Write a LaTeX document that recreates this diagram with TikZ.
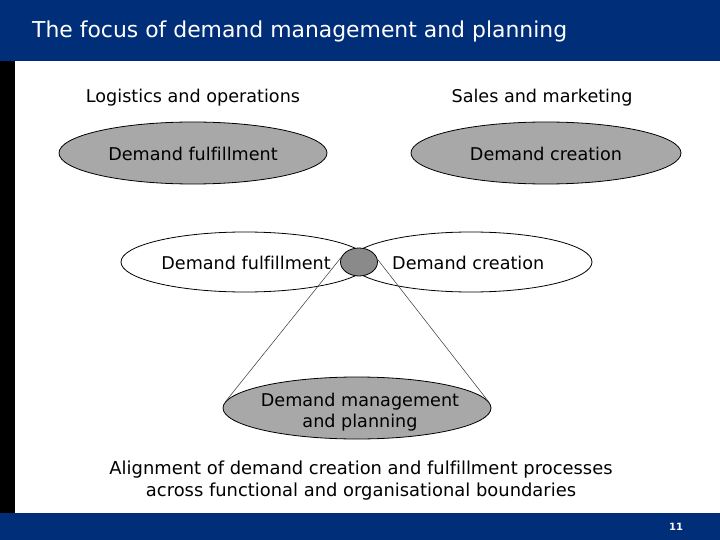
\documentclass[tikz,border=0pt]{standalone}
\usepackage{fontspec}
\setmainfont{DejaVu Sans}[Ligatures={NoCommon}]
\usepackage{xcolor}
\usetikzlibrary{positioning, shapes.geometric, calc}

\definecolor{navy}{RGB}{0,46,120}
\definecolor{lightgrey}{RGB}{168,168,168}
\definecolor{darkgrey}{RGB}{138,138,138}

\tikzset{
  oval/.style={ellipse, draw=black, line width=0.8pt, inner sep=0pt},
  ovalgrey/.style={oval, fill=lightgrey},
  label/.style={font=\fontsize{17.6}{21}\selectfont, align=center, inner sep=0pt},
  cone/.style={draw=black!80, line width=0.5pt}
}

\begin{document}
\begin{tikzpicture}[x=1pt, y=-1pt]
\useasboundingbox (0,0) rectangle (720,540);

% frame
\fill[navy] (0,0) rectangle (720,61);
\fill[black] (0,61) rectangle (15,513);
\fill[navy] (0,513) rectangle (720,540);
\node[anchor=west, inner sep=0pt, text=white, font=\fontsize{21.9}{24}\selectfont] (title) at (32,31) {The focus of demand management and planning};
\node[text=white, font=\rmfamily\bfseries\fontsize{10}{11}\selectfont] (page) at (676,527) {11};

% functions
\node[label] (logistics) at (193,98) {Logistics and operations};
\node[label] (sales) at (542,98) {Sales and marketing};
\node[ovalgrey, minimum width=268, minimum height=62] (fulfil) at (193,153) {};
\node[ovalgrey, minimum width=270, minimum height=62] (create) at (546,153) {};
\node[label] (fulfiltop) at (193,154) {Demand fulfillment};
\node[label] (createtop) at (546,154) {Demand creation};

% overlap
\node[oval, minimum width=248, minimum height=60] (fulfil2) at (245,262) {};
\node[oval, minimum width=242, minimum height=60] (create2) at (471,262) {};
\node[label, anchor=east] (fulfiltxt) at (331,263) {Demand fulfillment};
\node[label, anchor=west] (createtxt) at (392,263) {Demand creation};
\node[oval, fill=darkgrey, minimum width=37, minimum height=28] (core) at (359,262) {};

% demand management and planning
\node[ovalgrey, minimum width=268, minimum height=62] (plan) at (357,408) {};
\node[label] (plantxt) at (360,412) {Demand management\\and planning};
\draw[cone] (core.166) -- (plan.177);
\draw[cone] (core.8) -- (plan.3);

\node[label, font=\fontsize{17.9}{22}\selectfont] (align) at (361,481) {Alignment of demand creation and fulfillment processes\\across functional and organisational boundaries};
\end{tikzpicture}
\end{document}
